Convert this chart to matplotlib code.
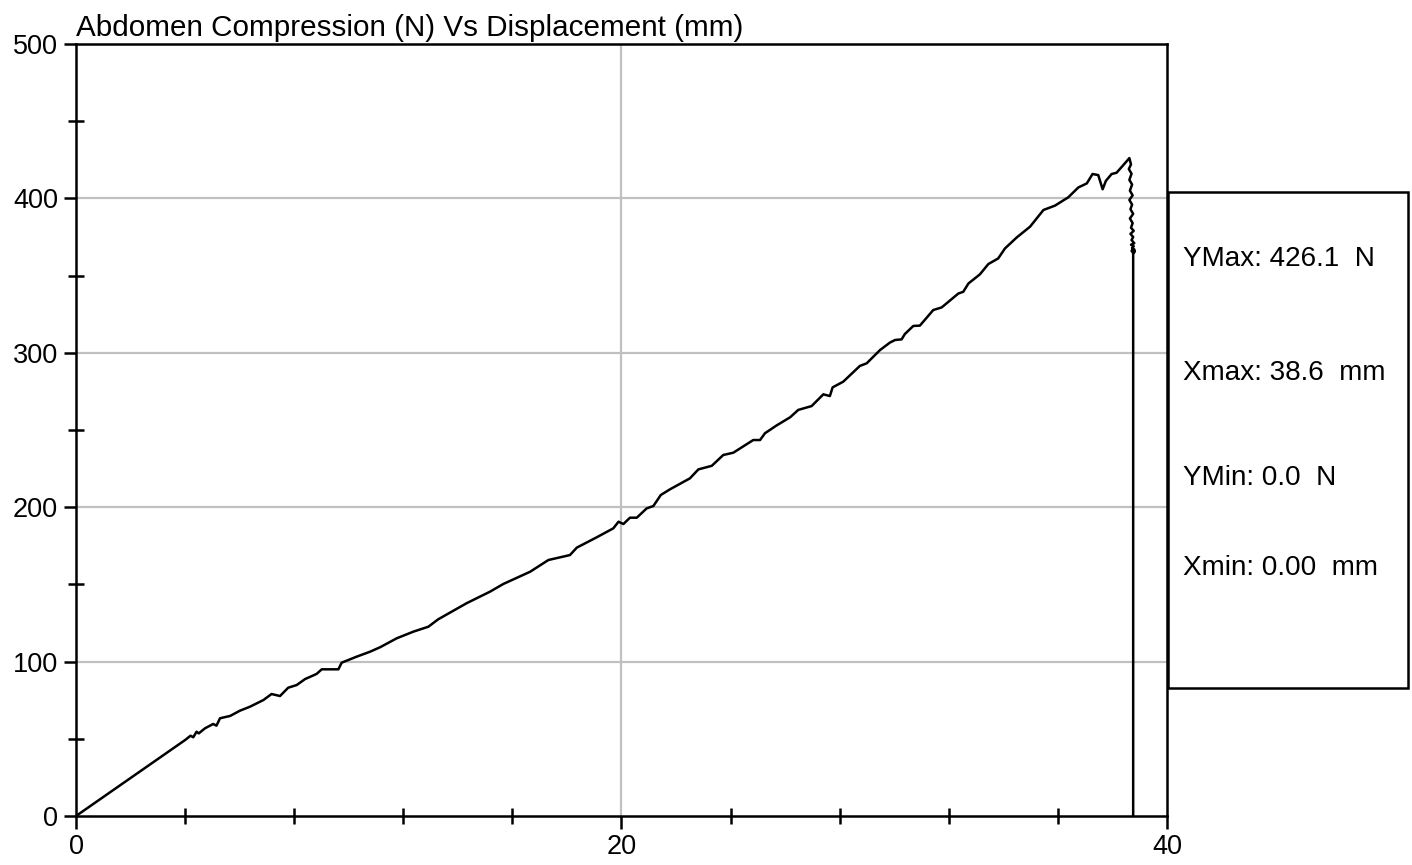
import matplotlib
matplotlib.use("Agg")
import numpy
import matplotlib.pyplot as plt
from matplotlib.patches import Rectangle

plt.rcParams['font.family'] = ['Liberation Sans', 'DejaVu Sans']

# Displacement (mm) and force (N)
displacement = [0.0, 4.0, 4.2, 4.3, 4.42, 4.5, 4.73, 5.03, 5.15, 5.28, 5.65, 6.01, 6.38, 6.87, 7.17, 7.48,
                7.78, 8.09, 8.40, 8.82, 9.01, 9.62, 9.74, 10.29, 10.78, 11.15, 11.76, 12.37, 12.92, 13.28,
                14.32, 15.18, 15.67, 16.65, 17.32, 18.11, 18.36, 19.09, 19.70, 19.89, 20.07, 20.31, 20.56,
                20.92, 21.17, 21.44, 21.78, 22.51, 22.82, 23.31, 23.73, 24.10, 24.83, 25.08, 25.26, 25.69,
                26.18, 26.48, 26.97, 27.40, 27.64, 27.74, 28.13, 28.74, 28.99, 29.48, 29.84, 30.03, 30.27,
                30.39, 30.70, 30.94, 31.43, 31.74, 32.35, 32.53, 32.72, 33.14, 33.45, 33.81, 34.06, 34.49,
                34.98, 35.47, 35.89, 36.38, 36.75, 37.06, 37.27, 37.48, 37.64, 37.76, 37.97, 38.15, 38.40,
                38.62, 38.68, 38.60, 38.70, 38.62, 38.72, 38.64, 38.74, 38.62, 38.72, 38.66, 38.76, 38.64,
                38.74, 38.68, 38.78, 38.66, 38.76, 38.70, 38.80, 38.68, 38.78, 38.72, 38.80, 38.70, 38.80,
                38.74, 38.82, 38.72, 38.80, 38.76, 38.76]
force = [0.0, 49.2, 52.0, 51.0, 54.6, 53.5, 56.8, 59.6, 58.5, 63.3, 64.8, 68.2, 70.8, 75.1, 79.0, 77.7,
         83.1, 84.8, 88.7, 92.0, 95.0, 95.0, 99.3, 103.2, 106.4, 109.3, 115.1, 119.4, 122.6, 127.4,
         137.8, 145.3, 150.3, 158.2, 165.8, 169.0, 173.8, 180.5, 186.3, 190.6, 189.1, 193.2, 193.2,
         199.2, 200.8, 207.9, 211.6, 218.7, 224.5, 226.8, 233.8, 235.3, 243.5, 243.5, 247.9, 253.0,
         258.2, 263.0, 265.5, 273.1, 272.0, 277.6, 281.3, 291.5, 293.2, 301.8, 306.6, 308.3, 308.7,
         312.2, 317.4, 317.6, 327.7, 329.4, 338.4, 339.5, 344.9, 350.8, 357.5, 361.1, 367.6, 374.7,
         381.7, 392.5, 395.3, 400.7, 407.1, 409.7, 415.8, 415.1, 405.9, 411.4, 415.8, 416.6, 421.6,
         426.1, 422.0, 419.0, 416.0, 412.0, 409.0, 405.0, 402.0, 399.0, 396.0, 393.0, 390.0, 387.0,
         384.0, 381.0, 379.0, 377.0, 375.0, 373.0, 371.0, 370.0, 369.0, 368.0, 367.0, 366.0, 365.5,
         365.0, 366.0, 367.0, 365.0, 366.0, 0.0]

stats_labels = ["YMax: 426.1  N", "Xmax: 38.6  mm", "YMin: 0.0  N", "Xmin: 0.00  mm"]
x_major = [0, 20, 40]
x_minor = [4, 8, 12, 16, 24, 28, 32, 36]
y_major = [0, 100, 200, 300, 400, 500]
y_minor = [50, 150, 250, 350, 450]

fig = plt.figure(figsize=(14.12, 8.65), dpi=100)
ax = fig.add_axes([76 / 1412, 49 / 865, 1091 / 1412, 772 / 865])

ax.plot(displacement, force, color="black", linewidth=1.8, zorder=3)

ax.set_xlim(0, 40)
ax.set_ylim(0, 500)
ax.set_xticks(x_major)
ax.set_xticks(x_minor, minor=True)
ax.set_yticks(y_major)
ax.set_yticks(y_minor, minor=True)
ax.tick_params(which="major", direction="out", length=9, width=1.8, labelsize=19.5, pad=4)
ax.tick_params(which="minor", direction="inout", length=12, width=1.8)
for spine in ax.spines.values():
    spine.set_linewidth(1.8)

# grid lines only inside, skipping the frame edges
for y in y_major[1:-1]:
    ax.axhline(y, color="#c0c0c0", linewidth=1.6, zorder=1)
ax.axvline(20, color="#c0c0c0", linewidth=1.6, zorder=1)

fig.text(76 / 1412, 1 - 36 / 865, "Abdomen Compression (N) Vs Displacement (mm)", fontsize=21.3,
         ha="left", va="baseline")

# stats box on the right
box = Rectangle((1168 / 1412, 1 - 688 / 865), 240 / 1412, 496 / 865, transform=fig.transFigure,
                fill=False, edgecolor="black", linewidth=1.8)
fig.patches.append(box)
for label, ypx in zip(stats_labels, [259, 373, 478, 568]):
    fig.text(1183 / 1412, 1 - ypx / 865, label, fontsize=20.1, ha="left", va="center")

plt.savefig("out.png", dpi=100)
